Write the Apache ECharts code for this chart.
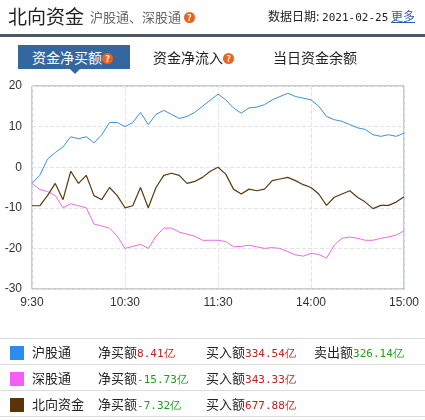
<!DOCTYPE html>
<html>
<head>
<meta charset="utf-8">
<script src="https://cdn.jsdelivr.net/npm/echarts@6/dist/echarts.min.js"></script>
<style>
body{margin:0;background:#fff;font-family:"Noto Sans CJK SC",sans-serif;}
#wrap{position:relative;width:425px;height:420px;overflow:hidden;}
#chart{position:absolute;left:0;top:0;width:425px;height:420px;}
.abs{position:absolute;white-space:nowrap;}
.q{display:inline-block;width:11px;height:11px;border-radius:50%;background:#e8641e;color:#fff;font-size:9px;line-height:11px;text-align:center;font-weight:bold;vertical-align:1px;}
table{position:absolute;left:0;top:338px;width:425px;border-collapse:collapse;font-size:13px;color:#222;}
td{height:25px;border-top:1px solid #ddd;border-bottom:1px solid #ddd;padding:0;white-space:nowrap;}
.sw{display:inline-block;width:14px;height:14px;margin-left:10px;vertical-align:middle;}
.r{color:#b22;font-family:"DejaVu Sans Mono",monospace;font-size:11px;}
.g{color:#292;font-family:"DejaVu Sans Mono",monospace;font-size:11px;}
</style>
</head>
<body>
<div id="wrap">
<div id="chart"></div>
<div class="abs" style="left:8px;top:2px;font-size:19px;color:#222;">北向资金</div>
<div class="abs" style="left:90px;top:7px;font-size:13px;color:#666;">沪股通、深股通 <span class="q">?</span></div>
<div class="abs" style="left:268px;top:7px;font-size:12px;color:#222;">数据日期: <span style="font-family:'DejaVu Sans Mono';font-size:11px;">2021-02-25</span> <span style="color:#2a5ca8;text-decoration:underline;">更多</span></div>
<div class="abs" style="left:0;top:34px;width:425px;height:3px;background:#4c5866;"></div>
<div class="abs" style="left:18px;top:45px;width:112px;height:24px;background:#3466a0;color:#fff;font-size:14px;line-height:24px;white-space:nowrap;"><span style="margin-left:14px">资金净买额</span><span class="q">?</span></div>
<div class="abs" style="left:70px;top:69px;width:0;height:0;border-left:5px solid transparent;border-right:5px solid transparent;border-top:5px solid #3466a0;"></div>
<div class="abs" style="left:153px;top:47px;font-size:14px;color:#222;">资金净流入<span class="q">?</span></div>
<div class="abs" style="left:273px;top:47px;font-size:14px;color:#222;">当日资金余额</div>
<table>
<tr><td style="width:32px"><span class="sw" style="background:#2d8cf0"></span></td><td style="width:66px">沪股通</td><td style="width:108px">净买额<span class="r">8.41亿</span></td><td style="width:108px">买入额<span class="r">334.54亿</span></td><td>卖出额<span class="g">326.14亿</span></td></tr>
<tr><td><span class="sw" style="background:#f55ef5"></span></td><td>深股通</td><td>净买额<span class="g">-15.73亿</span></td><td>买入额<span class="r">343.33亿</span></td><td></td></tr>
<tr><td><span class="sw" style="background:#5a3308"></span></td><td>北向资金</td><td>净买额<span class="g">-7.32亿</span></td><td>买入额<span class="r">677.88亿</span></td><td></td></tr>
</table>
</div>
<script>
// minutes since 9:30, trading time only (11:30 and 13:00 share minute 120)
var tickLabels = {0:'9:30',60:'10:30',120:'11:30',180:'14:00',240:'15:00'};
var minutes = [];
for (var m = 0; m <= 240; m += 5) minutes.push(m);

var shValues = [-4,-2,2,3.6,5,7.5,7,7.5,6,8,11,11,10,11,13.5,10.5,13,14,13,12,12.5,13.5,15,16.5,18,
  16.6,14.6,13.3,14.6,14.8,15.4,16.6,17.4,18.2,17.4,17,16.6,15,12.5,11.7,11.3,10.5,9.7,9.3,8,7.6,8,7.6,8.4];
var szValues = [-4,-5.5,-6,-7,-10,-9,-9.5,-10,-14,-14.5,-15,-17,-20,-19.5,-19,-20,-17,-15,-15,-16,-16.5,-17,-18,-18,-18,
  -18.3,-19.6,-19.5,-19.2,-19.6,-20,-19.8,-20,-20.8,-21.6,-21.9,-21.2,-21.5,-22.4,-19.2,-17.5,-17.2,-17.5,-18,-18,-17.5,-17.2,-16.7,-15.7];
var northValues = [-9.5,-9.5,-7,-4,-8,-1,-4,-2,-7,-8,-5,-7,-10,-9.5,-5,-10,-5,-2,-1.5,-2,-4,-3.5,-2.5,-1,0,
  -1.7,-5.4,-6.6,-5.4,-5.8,-5.4,-3.3,-2.9,-2.5,-3.3,-4.3,-5,-6.6,-9.4,-7.4,-6.6,-5.8,-7.4,-8.6,-10.2,-9.4,-9.4,-8.6,-7.3];

function pairs(vals){ return minutes.map(function(m,i){ return [m, vals[i]]; }); }

var chart = echarts.init(document.getElementById('chart'));
chart.setOption({
  animation:false,
  grid:{left:32,right:21,top:86,bottom:131,show:true,borderColor:'#999',borderWidth:1},
  xAxis:{type:'value',min:0,max:240,interval:60,
    axisLine:{show:false},axisTick:{show:false},
    axisLabel:{color:'#333',fontSize:12,fontFamily:'Liberation Sans',margin:8,
      formatter:function(v){return tickLabels[v]||'';}},
    splitLine:{show:true,lineStyle:{color:'#dfe6ee',type:'dashed'}}},
  yAxis:{type:'value',min:-30,max:20,interval:10,
    axisLine:{show:false},axisTick:{show:false},
    axisLabel:{color:'#333',fontSize:12,fontFamily:'Liberation Sans',margin:10},
    splitLine:{show:true,lineStyle:{color:'#e4e4e4',type:'dashed'}}},
  series:[
    {type:'line',data:pairs(shValues),symbol:'none',lineStyle:{color:'#3d8fd8',width:1}},
    {type:'line',data:pairs(szValues),symbol:'none',lineStyle:{color:'#e86be8',width:1}},
    {type:'line',data:pairs(northValues),symbol:'none',lineStyle:{color:'#5a3a12',width:1.2}}
  ]
});
</script>
</body>
</html>
